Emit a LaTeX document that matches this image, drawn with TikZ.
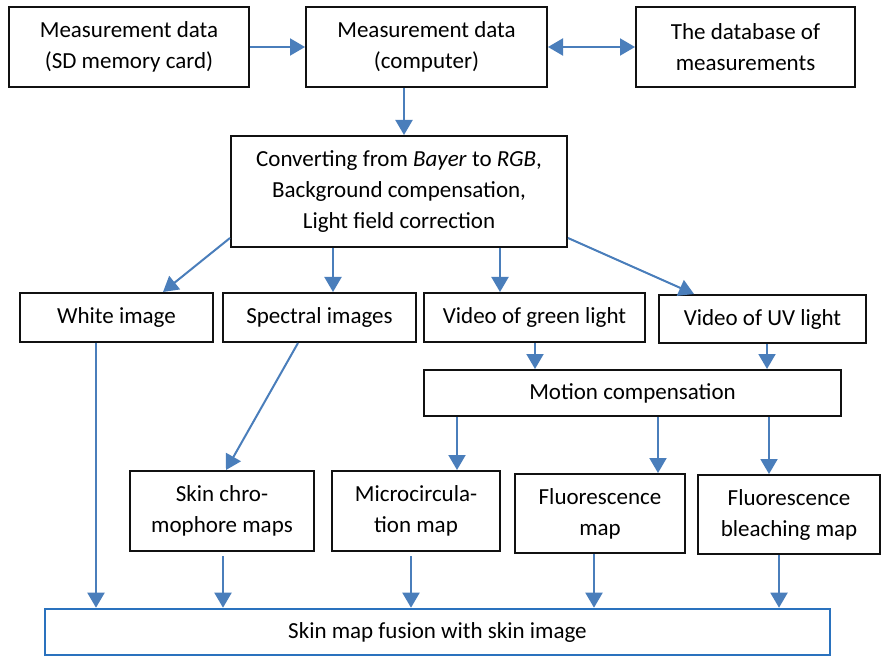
\documentclass[tikz,border=0pt]{standalone}
\usepackage{fontspec}
\setmainfont{Carlito}
\usepackage{xcolor}
\usetikzlibrary{arrows.meta,positioning,calc}
\definecolor{ink}{HTML}{111111}
\definecolor{arrblue}{HTML}{4A7EBB}
\definecolor{fuseblue}{HTML}{2A72BE}
\tikzset{
  box/.style={draw=ink,fill=white,line width=1pt,align=center,inner sep=2pt,
              font=\fontsize{11.5}{15.5}\selectfont},
  fusebox/.style={draw=fuseblue,fill=white,line width=1.3pt,align=center,
                  inner sep=2pt,font=\fontsize{11.5}{15.5}\selectfont},
  arr/.style={-{Triangle[length=7.5pt,width=8.5pt]},line width=1pt,
              draw=arrblue},
  dblarr/.style={{Triangle[length=7.5pt,width=8.5pt]}-{Triangle[length=7.5pt,width=8.5pt]},
                 line width=1pt,draw=arrblue}
}

\begin{document}
\begin{tikzpicture}[x=0.5pt,y=-0.5pt]
    \path[use as bounding box,fill=white] (0,0) rectangle (882,657);

    % acquisition
    \node[box,minimum width=120pt,minimum height=40pt] (sd) at (129,47)
      {Measurement data\\(SD memory card)};
    \node[box,minimum width=120.5pt,minimum height=40pt] (pc) at (426.5,47)
      {Measurement data\\(computer)};
    \node[box,minimum width=109.5pt,minimum height=40pt] (db) at (745.5,47)
      {The database of\\measurements};
    \draw[arr] (sd) -- (pc);
    \draw[dblarr] (pc) -- (db);

    \node[box,minimum width=168pt,minimum height=55.5pt] (conv) at (399,191.5)
      {Converting from \textit{Bayer} to \textit{RGB},\\Background compensation,\\Light field correction};
    \draw[arr] (pc.south -| 404,0) -- (conv.north -| 404,0);

    % images
    \node[box,minimum width=96.5pt,minimum height=24.5pt] (white) at (116.5,317.5)
      {White image};
    \node[box,minimum width=96.5pt,minimum height=24.5pt] (spec) at (319.5,317.5)
      {Spectral images};
    \node[box,minimum width=110.5pt,minimum height=24.5pt] (green) at (534.5,317.5)
      {Video of green light};
    \node[box,minimum width=103.5pt,minimum height=24pt] (uv) at (762.5,319)
      {Video of UV light};
    \draw[arr] ([yshift=5pt]conv.south west) -- (white.north -| 163,0);
    \draw[arr] (conv.south -| 333,0) -- (spec.north -| 333,0);
    \draw[arr] (conv.south -| 500,0) -- (green.north -| 500,0);
    \draw[arr] ([yshift=5pt]conv.south east) -- (uv.north -| 694,0);

    \node[box,minimum width=208.5pt,minimum height=23pt] (motion) at (632.5,393)
      {Motion compensation};
    \draw[arr] (green.south -| 535,0) -- (motion.north -| 535,0);
    \draw[arr] (uv.south -| 767,0) -- (motion.north -| 767,0);

    % maps
    \node[box,minimum width=92pt,minimum height=40pt] (chrom) at (222,511)
      {Skin chro-\\mophore maps};
    \node[box,minimum width=84pt,minimum height=40pt] (micro) at (416,511)
      {Microcircula-\\tion map};
    \node[box,minimum width=85pt,minimum height=39.5pt] (fluo) at (600,513.5)
      {Fluorescence\\map};
    \node[box,minimum width=91pt,minimum height=39.5pt] (bleach) at (789,514.5)
      {Fluorescence\\bleaching map};
    \draw[arr] (spec.south -| 298,0) -- (chrom.north -| 226,0);
    \draw[arr] (motion.south -| 457,0) -- (micro.north -| 457,0);
    \draw[arr] (motion.south -| 658,0) -- (fluo.north -| 658,0);
    \draw[arr] (motion.south -| 769,0) -- (bleach.north -| 769,0);

    \node[fusebox,minimum width=392.5pt,minimum height=23pt] (fusion) at (437.5,632)
      {Skin map fusion with skin image};
    \draw[arr] (white.south -| 96,0) -- (fusion.north -| 96,0);
    \draw[arr] ([yshift=-2pt]chrom.south -| 223,0) -- (fusion.north -| 223,0);
    \draw[arr] ([yshift=-2pt]micro.south -| 411,0) -- (fusion.north -| 411,0);
    \draw[arr] (fluo.south -| 594,0) -- (fusion.north -| 594,0);
    \draw[arr] (bleach.south -| 779,0) -- (fusion.north -| 779,0);
  \end{tikzpicture}
\end{document}
